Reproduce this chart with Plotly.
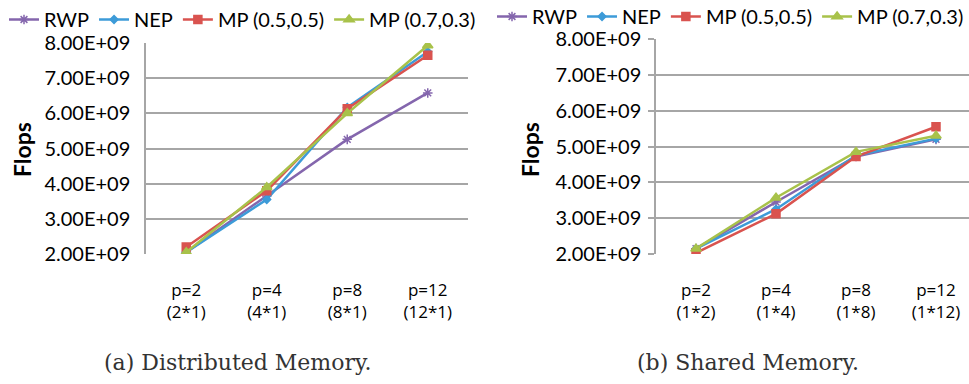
import plotly.graph_objects as go

categories_dm = ["p=2<br>(2*1)", "p=4<br>(4*1)", "p=8<br>(8*1)", "p=12<br>(12*1)"]
categories_sm = ["p=2<br>(1*2)", "p=4<br>(1*4)", "p=8<br>(1*8)", "p=12<br>(1*12)"]

series_names = ["RWP", "NEP", "MP (0.5,0.5)", "MP (0.7,0.3)"]

dm_rwp = [2.05e9, 3.65e9, 5.26e9, 6.58e9]
dm_nep = [2.05e9, 3.55e9, 6.17e9, 7.75e9]
dm_mp55 = [2.2e9, 3.8e9, 6.13e9, 7.65e9]
dm_mp73 = [2.05e9, 3.9e9, 6.0e9, 7.93e9]

sm_rwp = [2.15e9, 3.45e9, 4.72e9, 5.2e9]
sm_nep = [2.15e9, 3.25e9, 4.75e9, 5.22e9]
sm_mp55 = [2.03e9, 3.12e9, 4.72e9, 5.55e9]
sm_mp73 = [2.15e9, 3.57e9, 4.85e9, 5.3e9]

y_tickvals = [2e9, 3e9, 4e9, 5e9, 6e9, 7e9, 8e9]
y_ticktext = ["2.00E+09", "3.00E+09", "4.00E+09", "5.00E+09", "6.00E+09", "7.00E+09", "8.00E+09"]

colors = ["#8466ad", "#3d9bd8", "#d9534f", "#a8c24a"]
symbols = ["asterisk-open", "diamond", "square", "triangle-up"]
sizes = [8, 6, 8, 9]

FONT = "Lato, 'Open Sans', sans-serif"

fig = go.Figure()

dm_series = [dm_rwp, dm_nep, dm_mp55, dm_mp73]
sm_series = [sm_rwp, sm_nep, sm_mp55, sm_mp73]

for i, (name, ys) in enumerate(zip(series_names, dm_series)):
    fig.add_trace(go.Scatter(
        x=categories_dm, y=ys, name=name, mode="lines+markers",
        line=dict(color=colors[i], width=2.5),
        marker=dict(color=colors[i], symbol=symbols[i], size=sizes[i],
                    line=dict(color=colors[i], width=1.5)),
        xaxis="x", yaxis="y", legend="legend"))

for i, (name, ys) in enumerate(zip(series_names, sm_series)):
    fig.add_trace(go.Scatter(
        x=categories_sm, y=ys, name=name, mode="lines+markers",
        line=dict(color=colors[i], width=2.5),
        marker=dict(color=colors[i], symbol=symbols[i], size=sizes[i],
                    line=dict(color=colors[i], width=1.5)),
        xaxis="x2", yaxis="y2", legend="legend2"))

W, H = 969, 384

def px(x):
    return x / W

def py(y):
    return 1 - y / H

grid_color = "#a6a6a6"
xfont = dict(family="'Open Sans', sans-serif", size=17, color="#000")
yfont = dict(family=FONT, size=20, color="#000")
legfont = dict(family=FONT, size=20, color="#000")
capfont = dict(family="'DejaVu Serif', serif", size=22, color="#333")
flopsfont = dict(family=FONT, size=23, color="#000")

fig.update_layout(
    width=W, height=H,
    margin=dict(l=0, r=0, t=0, b=0, autoexpand=False),
    paper_bgcolor="white", plot_bgcolor="white",
    showlegend=True,
    xaxis=dict(domain=[px(146), px(468)], type="category", range=[-0.5, 3.5],
               showgrid=False, showline=False, ticks="", tickfont=xfont,
               ticklabelstandoff=24, anchor="y", fixedrange=True),
    yaxis=dict(domain=[py(254), py(43)], range=[2e9, 8e9], tickvals=y_tickvals,
               ticktext=y_ticktext, showgrid=True, gridcolor=grid_color, gridwidth=1.5,
               showline=True, linecolor=grid_color, linewidth=1.5, ticks="",
               tickfont=yfont, ticklabelstandoff=10, zeroline=False, anchor="x"),
    xaxis2=dict(domain=[px(656), 1.0], type="category", range=[-0.5, 3.5 - 7 / 80],
                showgrid=False, showline=False, ticks="", tickfont=xfont,
                ticklabelstandoff=24, anchor="y2"),
    yaxis2=dict(domain=[py(254), py(39)], range=[2e9, 8e9], tickvals=y_tickvals,
                ticktext=y_ticktext, showgrid=True, gridcolor=grid_color, gridwidth=1.5,
                showline=True, linecolor=grid_color, linewidth=1.5, ticks="outside",
                ticklen=6, tickcolor=grid_color, tickwidth=1.5,
                tickfont=yfont, ticklabelstandoff=3, zeroline=False, anchor="x2"),
    legend=dict(orientation="h", x=px(4), y=1.0, xanchor="left", yanchor="top",
                font=legfont, itemwidth=30,
                bgcolor="rgba(0,0,0,0)", tracegroupgap=0),
    legend2=dict(orientation="h", x=px(969), y=py(-3), xanchor="right", yanchor="top",
                 font=legfont, itemwidth=30,
                 bgcolor="rgba(0,0,0,0)", tracegroupgap=0),
    annotations=[
        dict(text="<b>Flops</b>", x=px(22), y=py(150), xref="paper", yref="paper",
             xanchor="center", yanchor="middle",
             textangle=-90, showarrow=False, font=flopsfont),
        dict(text="<b>Flops</b>", x=px(530), y=py(150), xref="paper", yref="paper",
             xanchor="center", yanchor="middle",
             textangle=-90, showarrow=False, font=flopsfont),
        dict(text="(a) Distributed Memory.", x=px(238), y=py(362), xref="paper", yref="paper",
             xanchor="center", yanchor="middle", showarrow=False, font=capfont),
        dict(text="(b) Shared Memory.", x=px(748), y=py(362), xref="paper", yref="paper",
             xanchor="center", yanchor="middle", showarrow=False, font=capfont),
    ],
)

fig.write_html("out.html", config={"displayModeBar": False},
               post_script="document.body.style.margin='0';document.body.style.overflow='hidden';")
